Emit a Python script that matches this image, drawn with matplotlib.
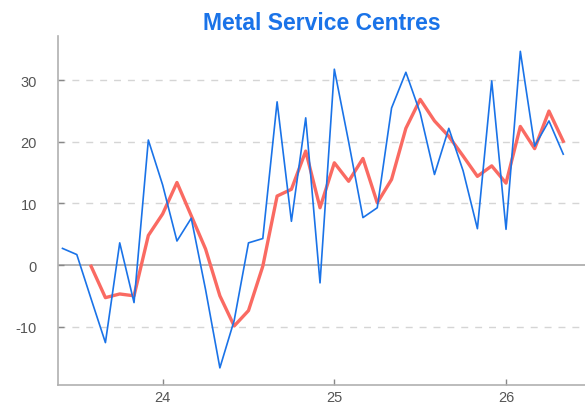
import numpy as np
import matplotlib.pyplot as plt

# monthly data, Jun 2023 .. May 2026
start_year = 2023
start_month = 6
blue = [2.7, 1.7, -5.5, -12.6, 3.6, -6.1, 20.3,
        13.0, 3.9, 7.6, -4.0, -16.7, -9.0, 3.6, 4.3, 26.5, 7.1, 23.9, -2.9,
        31.8, 20.0, 7.7, 9.3, 25.5, 31.3, 24.7, 14.7, 22.2, 15.3, 5.9, 29.9,
        5.8, 34.7, 19.3, 23.4, 18.0]
red = [-0.2, -5.3, -4.7, -5.0, 4.8,
       8.3, 13.4, 8.0, 2.6, -5.0, -9.9, -7.4, -0.2, 11.2, 12.3, 18.5, 9.3,
       16.6, 13.6, 17.3, 10.1, 13.9, 22.2, 26.9, 23.4, 20.9, 17.7, 14.4, 16.1,
       13.3, 22.5, 18.9, 25.0, 20.1]
yticks = [-10, 0, 10, 20, 30]
xticks = [24, 25, 26]

t_blue = np.array([(start_year - 2000) + (start_month - 1 + i) / 12 for i in range(len(blue))])
t_red = t_blue[len(blue) - len(red):]

blue_c = '#1a73e8'
red_c = '#fa6a62'
grey = '#b0b0b0'

plt.rcParams['font.family'] = ['Liberation Sans', 'DejaVu Sans']
fig = plt.figure(figsize=(5.85, 4.06), dpi=100)
ax = fig.add_axes([0.099, 0.049, 0.901, 0.86])

for v in yticks:
    if v == 0:
        ax.axhline(v, color='#a8a8a8', lw=1.2, zorder=1)
    else:
        ax.axhline(v, color='#d5d5d5', lw=1.0, ls=(0, (5, 5)), zorder=1)

ax.plot(t_blue, blue, color=blue_c, lw=1.2, zorder=3)
ax.plot(t_red, red, color=red_c, lw=2.4, zorder=2)

ax.set_xlim(23.39, 26.46)
ax.set_ylim(-19.5, 37.2)
ax.set_xticks(xticks)
ax.set_xticklabels([str(x) for x in xticks])
ax.set_yticks(yticks)
ax.set_yticklabels([str(y) for y in yticks])

for s in ['top', 'right']:
    ax.spines[s].set_visible(False)
for s in ['left', 'bottom']:
    ax.spines[s].set_color(grey)
    ax.spines[s].set_linewidth(1.2)
ax.tick_params(colors='#555555', labelsize=10.5, length=4, width=1, direction='in')
ax.tick_params(axis='both', color='#888888')
ax.tick_params(axis='y', pad=15)
ax.tick_params(axis='x', pad=3.5)

ax.set_title('Metal Service Centres', color=blue_c, fontweight='bold', fontsize=16.5, pad=5)

fig.savefig('out.png', dpi=100)
